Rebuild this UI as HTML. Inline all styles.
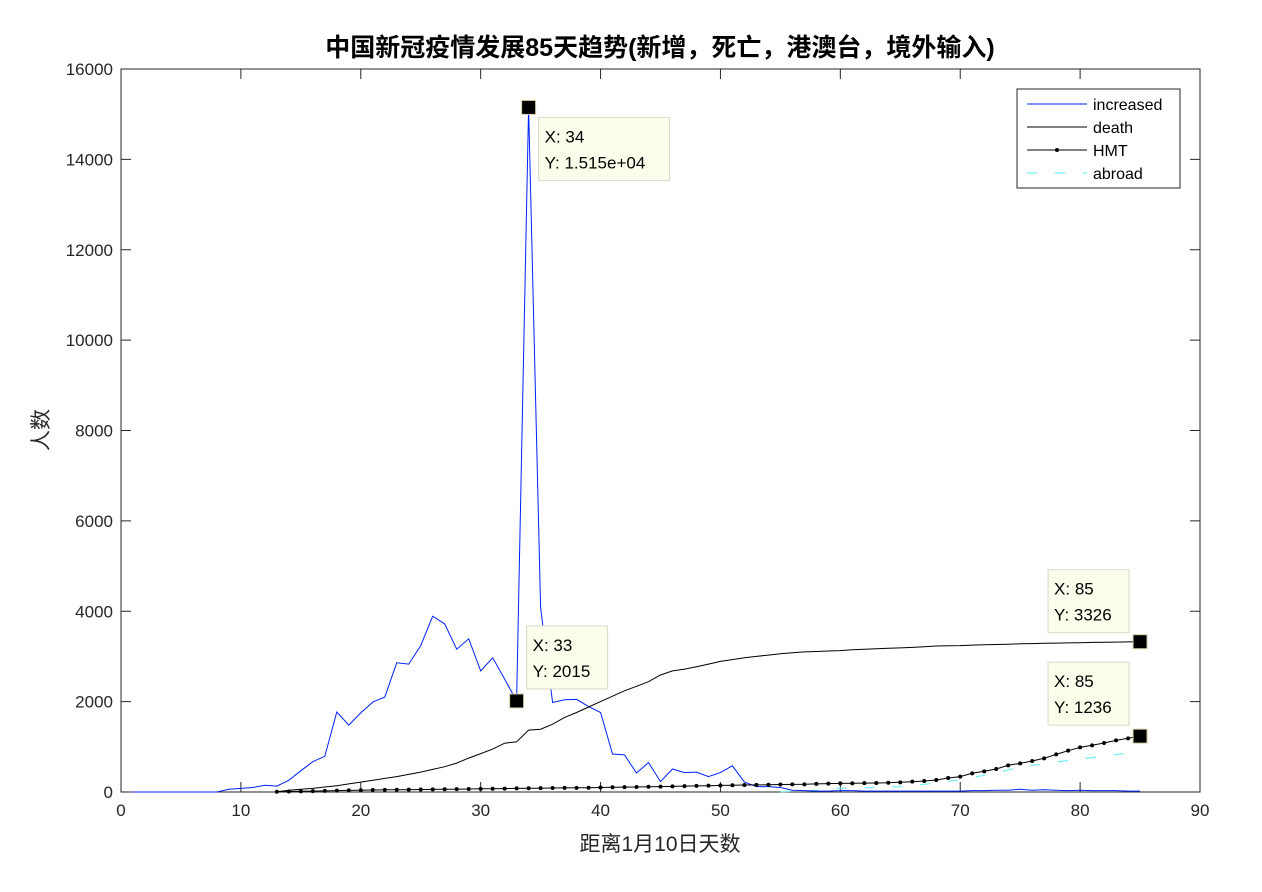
<!DOCTYPE html>
<html><head><meta charset="utf-8">
<style>
html,body{margin:0;padding:0;background:#fff;}
svg{display:block;font-family:"Liberation Sans","Noto Sans CJK SC",sans-serif;}
</style></head>
<body>
<svg id="chart" width="1262" height="892" viewBox="0 0 1262 892" xmlns="http://www.w3.org/2000/svg">
<rect x="0" y="0" width="1262" height="892" fill="#fff"/>
<text x="660" y="56" text-anchor="middle" font-size="25" font-weight="bold" fill="#000">中国新冠疫情发展85天趋势(新增，死亡，港澳台，境外输入)</text>
<text x="660" y="851" text-anchor="middle" font-size="21" fill="#262626">距离1月10日天数</text>
<text transform="translate(48,430) rotate(-90)" text-anchor="middle" font-size="21" fill="#262626">人数</text>
<g id="axes"></g>
<g id="series"></g>
<g id="tips"></g>
<g>
<rect x="1017" y="89" width="163" height="99" fill="#fff" stroke="#262626" stroke-width="1"/>
<line x1="1027" y1="104" x2="1087" y2="104" stroke="#0022ff" stroke-width="1"/>
<text x="1093" y="110" font-size="16" fill="#000">increased</text>
<line x1="1027" y1="127" x2="1087" y2="127" stroke="#000" stroke-width="1"/>
<text x="1093" y="133" font-size="16" fill="#000">death</text>
<line x1="1027" y1="150" x2="1087" y2="150" stroke="#000" stroke-width="1"/>
<circle cx="1057" cy="150" r="2" fill="#000"/>
<text x="1093" y="156" font-size="16" fill="#000">HMT</text>
<line x1="1027" y1="173" x2="1087" y2="173" stroke="#6ff0f5" stroke-width="1.2" stroke-dasharray="10,18"/>
<text x="1093" y="179" font-size="16" fill="#000">abroad</text>
</g>
</svg>
<script>
const xTicks = [0,10,20,30,40,50,60,70,80,90];
const yTicks = [0,2000,4000,6000,8000,10000,12000,14000,16000];
const increased = [0,0,0,0,0,0,0,0,60,80,100,150,130,260,470,670,790,1770,1480,1750,1990,2100,2860,2830,3240,3890,3720,3160,3390,2680,2970,2500,2015,15150,4080,1980,2040,2050,1890,1760,840,820,420,650,230,510,430,440,340,430,580,220,120,120,100,40,30,20,20,30,30,20,20,20,20,20,20,20,20,20,30,30,40,40,60,40,50,40,30,40,30,30,30,20,20];
const increasedStart = 1;
const death = [5,40,60,80,110,140,180,220,260,300,340,390,440,500,560,640,750,850,950,1080,1110,1370,1390,1500,1650,1760,1880,2000,2120,2240,2340,2440,2590,2680,2720,2770,2830,2890,2930,2970,3000,3030,3060,3080,3100,3110,3120,3130,3150,3160,3170,3180,3190,3200,3215,3230,3235,3240,3250,3260,3265,3270,3280,3285,3290,3295,3300,3305,3310,3315,3318,3322,3326];
const deathStart = 13;
const hmt = [5,10,15,20,25,30,35,40,45,48,50,52,55,58,60,63,66,70,73,76,80,82,85,88,90,92,95,100,105,108,110,115,120,125,130,135,140,145,150,155,158,160,165,168,170,180,185,190,192,196,199,205,214,229,243,266,310,340,413,457,509,590,634,686,745,833,915,988,1033,1084,1143,1188,1236];
const hmtStart = 13;
const abroad = [5,15,25,40,60,80,90,95,100,110,120,140,170,200,240,270,320,370,420,490,560,590,620,660,700,730,760,800,830,860,890];
const abroadStart = 55;
const tipX = [34,33,85,85];
const tipY = [15150,2015,3326,1236];

const L=121,R=1200,T=69,B=792;
const sx = v => L + (v-0)/(90-0)*(R-L);
const sy = v => B - (v-0)/(16000-0)*(B-T);
const NS="http://www.w3.org/2000/svg";
function mk(tag,attrs,parent){const e=document.createElementNS(NS,tag);for(const k in attrs)e.setAttribute(k,attrs[k]);parent.appendChild(e);return e;}
const axes=document.getElementById('axes');
const frame=mk('rect',{x:L,y:T,width:R-L,height:B-T,fill:'none',stroke:'#262626','stroke-width':1},axes);


xTicks.forEach(t=>{
  const x=sx(t);
  mk('line',{x1:x,y1:B,x2:x,y2:B-10,stroke:'#262626'},axes);
  mk('line',{x1:x,y1:T,x2:x,y2:T+10,stroke:'#262626'},axes);
  const tx=mk('text',{x:x,y:B+24,'text-anchor':'middle','font-size':17,fill:'#262626'},axes);
  tx.textContent=t;
  
  
});
yTicks.forEach(t=>{
  const y=sy(t);
  mk('line',{x1:L,y1:y,x2:L+10,y2:y,stroke:'#262626'},axes);
  mk('line',{x1:R,y1:y,x2:R-10,y2:y,stroke:'#262626'},axes);
  const tx=mk('text',{x:L-8,y:y+6,'text-anchor':'end','font-size':17,fill:'#262626'},axes);
  tx.textContent=t;
  
  
});
const series=document.getElementById('series');
function pts(arr,start){return arr.map((v,i)=>sx(start+i).toFixed(1)+','+sy(v).toFixed(1)).join(' ');}
const pa=mk('polyline',{points:pts(abroad,abroadStart),fill:'none',stroke:'#6ff0f5','stroke-width':1.2,'stroke-dasharray':'10,18'},series);


const pi=mk('polyline',{points:pts(increased,increasedStart),fill:'none',stroke:'#0022ff','stroke-width':1},series);


const pd=mk('polyline',{points:pts(death,deathStart),fill:'none',stroke:'#000','stroke-width':1},series);


const ph=mk('polyline',{points:pts(hmt,hmtStart),fill:'none',stroke:'#000','stroke-width':1},series);


hmt.forEach((v,i)=>{
  const c=mk('circle',{cx:sx(hmtStart+i),cy:sy(v),r:2,fill:'#000'},series);
  
  
});
const tips=document.getElementById('tips');
const boxDx=[10,10,-92,-92], boxDy=[10,-75,-72,-74];
tipX.forEach((xv,i)=>{
  const x=sx(xv), y=sy(tipY[i]);
  const g=mk('g',{},tips);
  
  
  const w = i===0?131:81;
  mk('rect',{x:x+boxDx[i],y:y+boxDy[i],width:w,height:63,fill:'#fdfdec',stroke:'#d8d8c8'},g);
  const t1=mk('text',{x:x+boxDx[i]+6,y:y+boxDy[i]+25,'font-size':17,fill:'#000'},g);
  t1.textContent='X: '+xv;
  const yl = tipY[i]>=10000 ? tipY[i].toExponential(3).replace('e+','e+0') : String(tipY[i]);
  const t2=mk('text',{x:x+boxDx[i]+6,y:y+boxDy[i]+51,'font-size':17,fill:'#000'},g);
  t2.textContent='Y: '+yl;
  mk('rect',{x:x-7,y:y-7,width:14,height:14,fill:'#000',stroke:'#d8d0a8','stroke-width':1},g);
});
</script>
</body></html>
